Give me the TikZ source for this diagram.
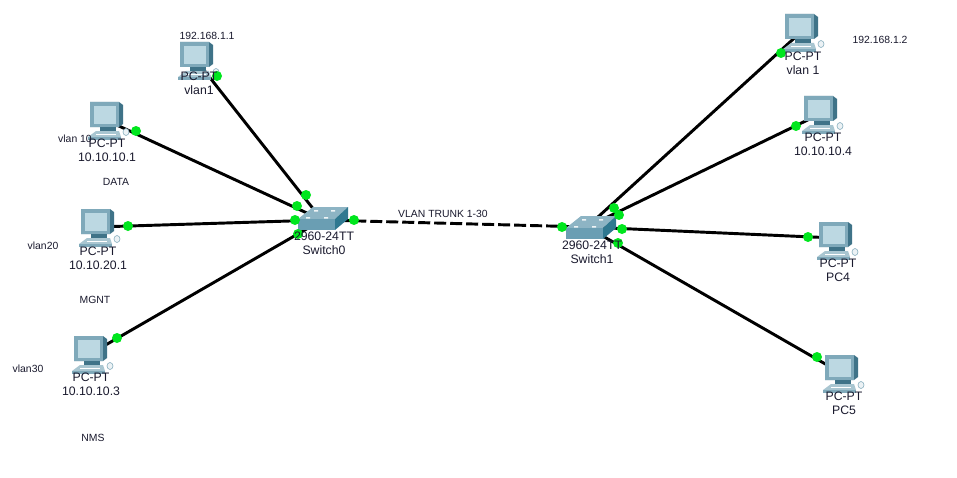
\documentclass[tikz,border=0pt]{standalone}
\usepackage{fontspec}
\setmainfont{Liberation Sans}
\definecolor{pcscreen}{HTML}{BCD8E2}
\definecolor{pcbody}{HTML}{7FA9BA}
\definecolor{pcdark}{HTML}{3F7388}
\definecolor{pcbase}{HTML}{A9C6D1}
\definecolor{swtop}{HTML}{8DB4C4}
\definecolor{swfront}{HTML}{6A9EB3}
\definecolor{swside}{HTML}{2F7890}
\definecolor{link}{HTML}{00E61E}
\definecolor{lbl}{HTML}{1A1A2E}
\tikzset{
  x=0.75pt,y=-0.75pt,
  dot/.style={circle,fill=link,inner sep=0pt,minimum size=7.5pt},
  wire/.style={line width=2.2pt,black},
  trunk/.style={line width=2.2pt,black,dash pattern=on 9pt off 3pt},
  devlabel/.style={font=\fontsize{9.2pt}{10.5pt}\selectfont,text=lbl,align=center,inner sep=0pt},
  note/.style={font=\fontsize{7.8pt}{9.5pt}\selectfont,text=lbl,inner sep=0pt},
  anchorpt/.style={inner sep=0pt,minimum size=0pt},
  pc/.pic={
    % mouse
    \fill[white!85!pcbody,draw=pcbody,line width=.4pt] (20,12) ellipse (3 and 3.5);
    % keyboard and base
    \fill[pcbase] (-10,11) -- (13,11) -- (15,17) -- (-18,17) -- cycle;
    \fill[pcbody] (-18,17) rectangle (15,20);
    \draw[white,line width=.5pt] (-10,14) -- (10,14);
    % stand
    \fill[pcdark] (-6,7) rectangle (10,11);
    % monitor
    \fill[pcdark] (-16,-18) -- (13,-18) -- (17,-15) -- (17,4) -- (13,7) -- (-16,7) -- cycle;
    \fill[pcbody] (-16,-18) rectangle (13,7);
    \fill[pcscreen] (-12,-14) rectangle (10,4);
  },
  sw/.pic={
    \fill[swtop] (-24,-1) -- (-9,-13) -- (26,-13) -- (13,-1) -- cycle;
    \fill[swfront] (-24,-1) rectangle (13,10);
    \fill[swside] (13,-1) -- (26,-13) -- (26,-1) -- (13,10) -- cycle;
    \fill[white!85!swtop] (-16,-3) rectangle (-12,-1.5) (2,-3) rectangle (6,-1.5) (-8,-10) rectangle (-4,-8.5) (9,-10) rectangle (13,-8.5);
  }
}
\begin{document}
\begin{tikzpicture}
\useasboundingbox (0,0) rectangle (957,478);
\fill[white] (0,0) rectangle (957,478);
% anchors of the devices
\node[anchorpt] (pcA) at (196,60) {};
\node[anchorpt] (pcB) at (106,120) {};
\node[anchorpt] (pcC) at (97,227) {};
\node[anchorpt] (pcD) at (90,354) {};
\node[anchorpt] (swL) at (322,220) {};
\node[anchorpt] (swR) at (587,227) {};
\node[anchorpt] (pcE) at (801,32) {};
\node[anchorpt] (pcF) at (820,114) {};
\node[anchorpt] (pcG) at (835,238) {};
\node[anchorpt] (pcH) at (841,373) {};
% connectors
\draw[wire] (pcA) -- (swL);
\draw[wire] (pcB) -- (swL);
\draw[wire] (pcC) -- (swL);
\draw[wire] (pcD) -- (swL);
\draw[trunk] (swL) -- (swR);
\draw[wire] (pcE) -- (swR);
\draw[wire] (pcF) -- (swR);
\draw[wire] (pcG) -- (swR);
\draw[wire] (pcH) -- (swR);
% devices
\foreach \p in {pcA,pcB,pcC,pcD,pcE,pcF} \pic at (\p) {pc};
\pic at (835,240) {pc};
\pic at (pcH) {pc};
\pic at (swL) {sw};
\pic at (590,229) {sw};
% link lights
\node[dot] (d1) at (217,76) {};
\node[dot] (d2) at (306,195) {};
\node[dot] (d3) at (136,131) {};
\node[dot] (d4) at (297,206) {};
\node[dot] (d5) at (128,226) {};
\node[dot] (d6) at (295,220) {};
\node[dot] (d7) at (117,338) {};
\node[dot] (d8) at (298,234) {};
\node[dot] (d9) at (354,220) {};
\node[dot] (d10) at (562,227) {};
\node[dot] (d11) at (781,53) {};
\node[dot] (d12) at (614,208) {};
\node[dot] (d13) at (796,126) {};
\node[dot] (d14) at (619,215) {};
\node[dot] (d15) at (808,237) {};
\node[dot] (d16) at (622,229) {};
\node[dot] (d17) at (817,357) {};
\node[dot] (d18) at (618,243) {};
% device labels
\node[devlabel] (t1) at (199,83) {PC-PT\\vlan1};
\node[devlabel] (t2) at (107,150) {PC-PT\\10.10.10.1};
\node[devlabel] (t3) at (98,258) {PC-PT\\10.10.20.1};
\node[devlabel] (t4) at (91,384) {PC-PT\\10.10.10.3};
\node[devlabel] (t5) at (324,243) {2960-24TT\\Switch0};
\node[devlabel] (t6) at (592,252) {2960-24TT\\Switch1};
\node[devlabel] (t7) at (803,63) {PC-PT\\vlan 1};
\node[devlabel] (t8) at (823,144) {PC-PT\\10.10.10.4};
\node[devlabel] (t9) at (838,270) {PC-PT\\PC4};
\node[devlabel] (t10) at (844,403) {PC-PT\\PC5};
% free notes
\node[note] (n1) at (207,36) {192.168.1.1};
\node[note] (n2) at (880,40) {192.168.1.2};
\node[note] (n3) at (75,139) {vlan 10};
\node[note] (n4) at (116,182) {DATA};
\node[note] (n5) at (43,246) {vlan20};
\node[note] (n6) at (95,300) {MGNT};
\node[note] (n7) at (28,369) {vlan30};
\node[note] (n8) at (93,438) {NMS};
\node[note] (n9) at (443,214) {VLAN TRUNK 1-30};
\end{tikzpicture}
\end{document}
